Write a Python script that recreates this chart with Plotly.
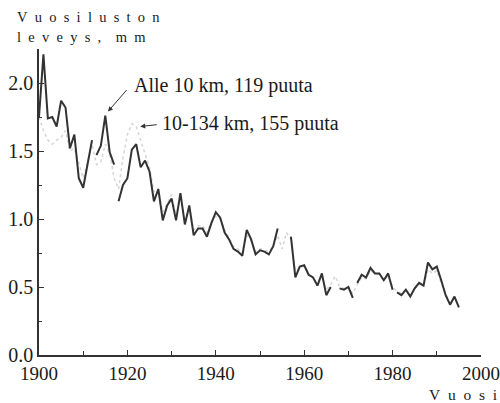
import plotly.graph_objects as go

years = list(range(1900, 1996))

alle_10km = [1.75, 2.21, 1.74, 1.75, 1.68, 1.87, 1.82, 1.52, 1.62, 1.30,
             1.23, 1.40, 1.58, 1.47, 1.54, 1.76, 1.49, 1.40, 1.13, 1.25,
             1.30, 1.51, 1.55, 1.38, 1.43, 1.35, 1.13, 1.22, 0.99, 1.10,
             1.15, 0.99, 1.19, 0.96, 1.10, 0.88, 0.93, 0.93, 0.87, 0.97,
             1.05, 1.01, 0.90, 0.85, 0.78, 0.76, 0.73, 0.92, 0.85, 0.74,
             0.77, 0.76, 0.74, 0.80, 0.93, None, None, 0.87, 0.57, 0.65,
             0.66, 0.59, 0.57, 0.51, 0.60, 0.44, 0.50, None, 0.49, 0.48,
             0.50, 0.42, 0.53, 0.59, 0.57, 0.64, 0.60, 0.60, 0.55, 0.60,
             0.48, 0.46, 0.44, 0.48, 0.43, 0.49, 0.53, 0.51, 0.68, 0.63,
             0.65, 0.55, 0.44, 0.37, 0.43, 0.35]
# years after which the dark curve is broken in the original figure
alle_breaks_after = [1912, 1917, 1971, 1980]

km_10_134 = [1.75, 1.65, 1.58, 1.55, 1.58, 1.60, 1.65, 1.50, 1.52, 1.40,
             1.30, 1.42, 1.55, 1.40, 1.42, 1.55, 1.48, 1.30, 1.22, 1.45,
             1.62, 1.70, 1.68, 1.58, 1.48, 1.38, 1.20, 1.22, 1.05, 1.12,
             1.18, 1.02, 1.15, 0.98, 1.08, 0.92, 0.95, 0.95, 0.90, 0.98,
             1.02, 1.00, 0.92, 0.86, 0.80, 0.78, 0.75, 0.88, 0.84, 0.76,
             0.78, 0.77, 0.76, 0.80, 0.88, 0.78, 0.90, 0.85, 0.62, 0.64,
             0.65, 0.60, 0.57, 0.52, 0.58, 0.48, 0.52, 0.58, 0.50, 0.49,
             0.50, 0.45, 0.52, 0.57, 0.56, 0.62, 0.60, 0.59, 0.55, 0.58,
             0.50, 0.47, 0.45, 0.48, 0.44, 0.49, 0.52, 0.51, 0.63, 0.60,
             0.62, 0.53, 0.45, 0.38, 0.42, 0.36]

label_alle = "Alle 10 km, 119 puuta"
label_far = "10-134 km, 155 puuta"
SP = "\u2002"
y_title = [SP.join("Vuosiluston"), SP.join("leveys,") + SP + SP + SP.join("mm")]
x_title = SP.join("Vuosi")

FONT = "Liberation Serif, Times New Roman, serif"
AX = "#333333"
TXT = "#1a1a1a"

# build dark series with line breaks
dx, dy = [], []
for yr, v in zip(years, alle_10km):
    dx.append(yr)
    dy.append(v)
    if yr in alle_breaks_after:
        dx.append(yr + 0.5)
        dy.append(None)

fig = go.Figure()
fig.add_trace(go.Scatter(x=years, y=km_10_134, mode="lines",
                         line=dict(color="#d4d4d4", width=1.5, dash="dot"),
                         connectgaps=False, showlegend=False, hoverinfo="skip"))
fig.add_trace(go.Scatter(x=dx, y=dy, mode="lines",
                         line=dict(color="#333333", width=2),
                         connectgaps=False, showlegend=False, hoverinfo="skip"))

fig.update_layout(
    width=500, height=403,
    margin=dict(l=39, r=19, t=49, b=48, autoexpand=False),
    plot_bgcolor="white", paper_bgcolor="white",
    font=dict(family=FONT, size=20, color=TXT),
    xaxis=dict(range=[1900, 2000], showgrid=False, zeroline=False,
               automargin=False, ticklabeloverflow="allow",
               showline=True, linecolor=AX, linewidth=1.5,
               ticks="inside", ticklen=5, tickwidth=1.2, tickcolor=AX,
               tickvals=[1900, 1920, 1940, 1960, 1980, 2000],
               minor=dict(tickvals=[1910, 1930, 1950, 1970, 1990], ticks="inside",
                          ticklen=4, tickwidth=1.2, tickcolor=AX),
               tickfont=dict(family=FONT, size=19, color=TXT)),
    yaxis=dict(range=[0, 2.25], showgrid=False, zeroline=False,
               automargin=False, ticklabeloverflow="allow",
               showline=True, linecolor=AX, linewidth=1.5,
               ticks="inside", ticklen=5, tickwidth=1.2, tickcolor=AX,
               tickvals=[0, 0.5, 1.0, 1.5, 2.0], tickformat=".1f",
               minor=dict(tickvals=[0.25, 0.75, 1.25, 1.75], ticks="inside",
                          ticklen=3, tickwidth=1.2, tickcolor=AX),
               tickfont=dict(family=FONT, size=20, color=TXT)),
)

# arrows
fig.add_annotation(x=1915.6, y=1.79, ax=20, ay=-23, text="", showarrow=True,
                   arrowhead=2, arrowsize=1, arrowwidth=1, arrowcolor="#333")
fig.add_annotation(x=1922.9, y=1.68, ax=18, ay=-2, text="", showarrow=True,
                   arrowhead=2, arrowsize=1, arrowwidth=1, arrowcolor="#333")
# labels
fig.add_annotation(x=1921.1, y=1.985, text=label_alle, showarrow=False,
                   xanchor="left", yanchor="middle",
                   font=dict(family=FONT, size=20, color=TXT))
fig.add_annotation(x=1927.4, y=1.70, text=label_far, showarrow=False,
                   xanchor="left", yanchor="middle",
                   font=dict(family=FONT, size=20, color=TXT))
# axis titles
fig.add_annotation(xref="paper", yref="paper", x=(15 - 39) / 442, y=(355 - 17) / 306,
                   text=y_title[0], showarrow=False, xanchor="left", yanchor="middle",
                   font=dict(family=FONT, size=14.5, color=TXT))
fig.add_annotation(xref="paper", yref="paper", x=(15 - 39) / 442, y=(355 - 37) / 306,
                   text=y_title[1], showarrow=False, xanchor="left", yanchor="middle",
                   font=dict(family=FONT, size=14.5, color=TXT))
fig.add_annotation(xref="paper", yref="paper", x=(427 - 39) / 442, y=(355 - 394) / 306,
                   text=x_title, showarrow=False, xanchor="left", yanchor="middle",
                   font=dict(family=FONT, size=15.5, color=TXT))

fig.write_html(
    "out.html",
    config={"displayModeBar": False},
    post_script="document.body.style.margin='0';document.body.style.overflow='hidden';",
)
